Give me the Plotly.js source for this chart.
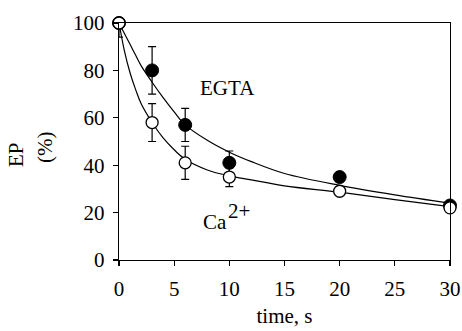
<!DOCTYPE html>
<html>
<head>
<meta charset="utf-8">
<script src="https://cdn.plot.ly/plotly-3.0.1.min.js"></script>
<style>html,body{margin:0;padding:0;background:#fff;}#chart{width:462px;height:331px;}</style>
</head>
<body>
<div id="chart"></div>
<script>
// measured points
const timePts = [0, 3, 6, 10, 20, 30];
const egtaVals = [100, 80, 57, 41, 35, 23];
const egtaErrPlus = [0, 10, 7, 5, 0, 0];
const egtaErrMinus = [6, 10, 7, 5, 0, 0];
const caVals = [100, 58, 41, 35, 29, 22];
const caErr = [0, 8, 7, 4, 0, 0];
// fitted curves
const fitTime = [0, 0.5, 1, 1.5, 2, 3, 4, 5, 6, 8, 10, 12, 15, 20, 25, 30];
const egtaFit = [100, 95.5, 91, 86.5, 82, 75, 68.5, 62.5, 57, 50.5, 45.5, 41.5, 36.5, 31.5, 27.5, 24];
const caFit = [100, 88, 79, 72, 66, 58, 51.5, 46.5, 42.5, 38, 35.5, 33.8, 31.3, 28.6, 25.5, 22.5];
const xTicks = [0, 5, 10, 15, 20, 25, 30];
const yTicks = [0, 20, 40, 60, 80, 100];

const FONT = 'Liberation Serif, Times New Roman, serif';
const F = {family: FONT, size: 21, color: '#000', weight: 'normal'};
const traces = [
  {x: fitTime, y: egtaFit, mode: 'lines', line: {color: '#000', width: 1.2, shape: 'spline', smoothing: 1}, hoverinfo: 'skip', cliponaxis: false},
  {x: fitTime, y: caFit, mode: 'lines', line: {color: '#000', width: 1.2, shape: 'spline', smoothing: 1}, hoverinfo: 'skip', cliponaxis: false},
  {x: timePts, y: egtaVals, mode: 'markers', cliponaxis: false,
   marker: {size: 13, color: '#000', line: {color: '#000', width: 1}},
   error_y: {type: 'data', symmetric: false, array: egtaErrPlus, arrayminus: egtaErrMinus, visible: true, color: '#000', thickness: 1.2, width: 4}},
  {x: timePts, y: caVals, mode: 'markers', cliponaxis: false,
   marker: {size: 12, color: '#fff', line: {color: '#000', width: 1.3}},
   error_y: {type: 'data', array: caErr, visible: true, color: '#000', thickness: 1.2, width: 4}}
];

const pw = 462 - 119 - 12, ph = 331 - 23 - 71;
const px = v => (v - 119) / pw;
const py = v => (331 - 71 - v) / ph;

const layout = {
  width: 462, height: 331,
  margin: {l: 119, r: 12, t: 23, b: 71},
  showlegend: false,
  paper_bgcolor: '#fff', plot_bgcolor: '#fff',
  font: F,
  xaxis: {range: [0, 30], tickvals: xTicks, ticks: 'outside', ticklen: 5, tickwidth: 1.2, tickcolor: '#000',
          showline: true, linecolor: '#000', linewidth: 1.3, mirror: true, showgrid: false, zeroline: false,
          ticklabelstandoff: 4, tickfont: F,
          title: {text: 'time, s', font: F, standoff: 8}},
  yaxis: {range: [0, 100], tickvals: yTicks, ticks: 'outside', ticklen: 5, tickwidth: 1.2, tickcolor: '#000',
          showline: true, linecolor: '#000', linewidth: 1.3, mirror: true, showgrid: false, zeroline: false,
          ticklabelstandoff: 4, tickfont: F},
  annotations: [
    {text: 'EGTA', x: 9.85, y: 72.4, xref: 'x', yref: 'y', xanchor: 'center', yanchor: 'middle', showarrow: false, font: F},
    {text: 'Ca', x: px(215), y: py(222), xref: 'paper', yref: 'paper', xanchor: 'center', yanchor: 'middle', showarrow: false, font: F},
    {text: '2+', x: px(238.5), y: py(211), xref: 'paper', yref: 'paper', xanchor: 'center', yanchor: 'middle', showarrow: false, font: F},
    {text: 'EP', x: px(16), y: py(155), xref: 'paper', yref: 'paper', xanchor: 'center', yanchor: 'middle', showarrow: false, textangle: -90, font: F},
    {text: '(%)', x: px(45), y: py(148), xref: 'paper', yref: 'paper', xanchor: 'center', yanchor: 'middle', showarrow: false, textangle: -90, font: F}
  ]
};

Plotly.newPlot('chart', traces, layout, {displayModeBar: false, staticPlot: true});
</script>
</body>
</html>
